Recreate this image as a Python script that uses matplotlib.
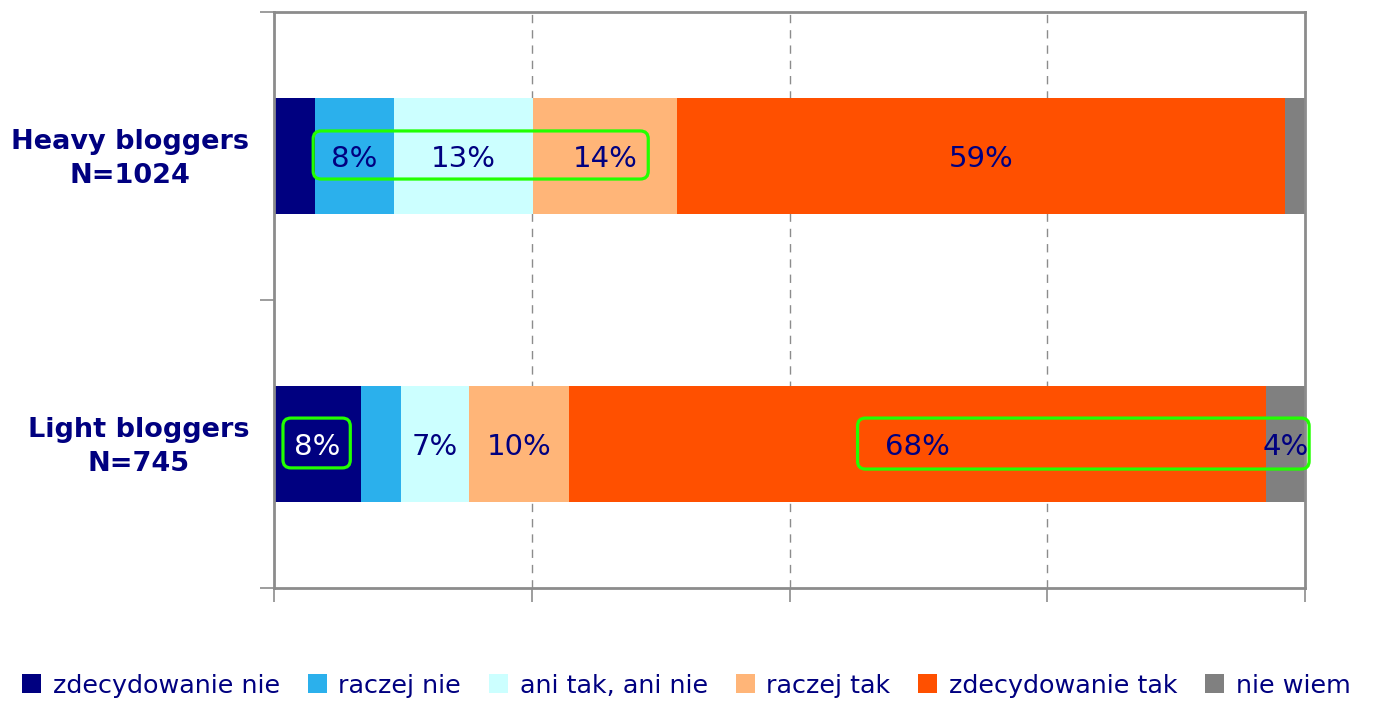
import matplotlib
matplotlib.use("Agg")
import matplotlib.pyplot as plt
from matplotlib.patches import FancyBboxPatch, Patch

categories = ["Heavy bloggers\nN=1024", "Light bloggers\nN=745"]
series_names = ["zdecydowanie nie", "raczej nie", "ani tak, ani nie",
                "raczej tak", "zdecydowanie tak", "nie wiem"]
heavy_values = [4.0, 7.6, 13.5, 14.0, 59.0, 1.9]
light_values = [8.4, 3.9, 6.6, 9.7, 67.6, 3.8]
heavy_labels = ["", "8%", "13%", "14%", "59%", ""]
light_labels = ["8%", "", "7%", "10%", "68%", "4%"]
colors = ["#000080", "#2BB0EC", "#CCFFFF", "#FFB578", "#FF5000", "#808080"]
label_colors = ["#FFFFFF", "#000080", "#000080", "#000080", "#000080", "#000080"]
# highlight boxes (x0, x1, y0, y1) in data units
boxes = [(3.8, 36.3, -0.087, 0.08), (0.87, 7.4, 0.91, 1.083), (56.6, 100.4, 0.91, 1.087)]

navy = "#000080"
grey = "#8C8C8C"

fig = plt.figure(figsize=(13.73, 7.05), dpi=100)
ax = fig.add_axes([274/1373, 1-588/705, (1305-274)/1373, (588-12)/705])

rows = [heavy_values, light_values]
rlabels = [heavy_labels, light_labels]
for i, (vals, labs) in enumerate(zip(rows, rlabels)):
    left = 0
    for j, v in enumerate(vals):
        ax.barh(i, v, left=left, height=0.4, color=colors[j], edgecolor="none", zorder=2)
        if labs[j]:
            tc = label_colors[j] if i == 1 else navy
            ax.text(left + v/2, i + 0.01, labs[j], ha="center", va="center",
                    fontsize=21, color=tc, zorder=4)
        left += v

ax.set_xlim(0, 100)
ax.set_ylim(1.5, -0.5)
ax.set_xticks([0, 25, 50, 75, 100])
ax.set_xticklabels([])
ax.set_yticks([-0.5, 0.5, 1.5])
ax.set_yticklabels([])
ax.tick_params(axis="both", length=10, color=grey, width=1.2)
for s in ax.spines.values():
    s.set_color(grey)
    s.set_linewidth(2)
for x in [25, 50, 75]:
    ax.axvline(x, color=grey, lw=1, ls=(0, (6, 5)), zorder=1)

for i, c in enumerate(categories):
    ax.annotate(c, xy=(0, i), xycoords=("axes fraction", "data"),
                xytext=(-18, -2), textcoords="offset points",
                ha="right", va="center", multialignment="center",
                fontsize=19.5, fontweight="bold", color=navy, linespacing=1.4)

fig.canvas.draw()
for (x0, x1, y0, y1) in boxes:
    (px0, py0) = ax.transData.transform((x0, y1))
    (px1, py1) = ax.transData.transform((x1, y0))
    p = FancyBboxPatch((px0, py0), px1 - px0, py1 - py0,
                       boxstyle="round,pad=0,rounding_size=8",
                       transform=None, fill=False, edgecolor="#22FF00",
                       linewidth=2.3, zorder=5, clip_on=False)
    fig.patches.append(p)

handles = [Patch(facecolor=c, edgecolor="none") for c in colors]
leg = fig.legend(handles, series_names, loc="lower center", bbox_to_anchor=(0.5, -0.022),
                 ncol=6, frameon=False, fontsize=18.3, handlelength=0.75, handleheight=0.75,
                 handletextpad=0.45, columnspacing=1.1, labelcolor=navy)

fig.savefig("out.png", dpi=100)
